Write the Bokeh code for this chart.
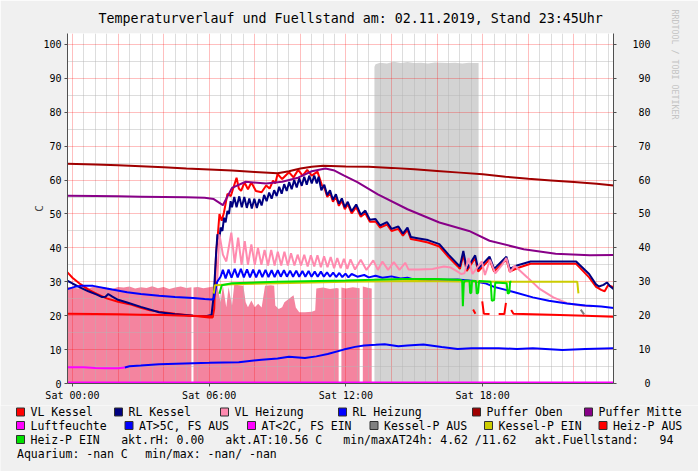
from bokeh.plotting import figure
from bokeh.models import Range1d, LinearAxis, FixedTicker, Title
from bokeh.embed import file_html
from bokeh.resources import INLINE
from bokeh.core.properties import value

# ---------------- texts / ticks ----------------
TITLE = "Temperaturverlauf und Fuellstand am: 02.11.2019, Stand 23:45Uhr"
WATERMARK = "RRDTOOL / TOBI OETIKER"
Y_LABEL = "C"
X_TICKS = [0, 6, 12, 18]
X_TICK_LABELS = ["Sat 00:00", "Sat 06:00", "Sat 12:00", "Sat 18:00"]
Y_TICKS = [0, 10, 20, 30, 40, 50, 60, 70, 80, 90, 100]

# ---------------- data (time in hours of Sat 02.11.2019) ----------------
FILL_T = [-0.25, 0.0, 0.25, 0.5, 0.75, 1.0, 1.25, 1.5, 1.75, 2.0, 2.25, 2.5, 2.75, 3.0, 3.25, 3.5, 3.75,
          4.0, 4.25, 4.5, 4.75, 5.0, 5.22, None, 5.31, 5.5, 5.75, 6.0, 6.2, 6.35, 6.5, 6.6, 6.75, 6.85,
          7.0, 7.1, 7.3, 7.5, 7.6, 7.7, 7.85, 8.0, 8.15, 8.3, 8.45, 8.7, 8.85, 8.9, 9.05, 9.2, 9.3, 9.5,
          9.7, 9.8, 9.95, 10.2, 10.5, 10.65, 10.7, 11.0, 11.3, 11.6, 11.68, None, 11.8, 12.0, 12.3,
          12.6, None, 12.74, 13.0, 13.13]
FILL_V = [28.5, 28.3, 28.0, 28.6, 28.2, 28.7, 28.1, 28.4, 27.9, 28.5, 28.3, 28.6, 28.0, 28.4, 28.2, 28.7, 28.1,
          28.5, 27.9, 28.3, 28.6, 28.2, 28.4, None, 28.3, 28.5, 28.1, 28.4, 28.6, 29.0, 24.0, 29.0, 22.5, 28.5,
          23.0, 29.2, 29.0, 28.8, 24.0, 22.5, 24.5, 22.5, 23.5, 22.4, 28.8, 29.0, 28.8, 23.0, 22.0, 22.5, 24.0, 25.0,
          26.0, 22.4, 21.0, 21.0, 21.2, 21.5, 28.0, 28.3, 27.9, 28.2, 28.0, None, 28.3, 28.0, 28.4,
          28.1, None, 28.6, 28.2, 28.0]

FS_T = [13.25, 13.3, 13.5, 13.8, 14.1, 14.4, 14.7, 15.0, 15.3, 15.6, 15.9, 16.2, 16.5, 16.8, 17.1, 17.4, 17.6, 17.82]
FS_V = [93.4, 94.2, 94.6, 94.4, 94.9, 94.5, 94.8, 94.5, 94.6, 94.4, 94.7, 94.6, 94.5, 94.6, 94.4, 94.6, 94.5, 94.5]

VLK_T = [-0.25, 0.0, 0.35, 0.7, 1.07, 1.5, 2.0, 2.5, 3.0, 3.4, 3.8, 4.5, 5.3, 6.0, 6.15, 6.22, 6.3, 6.38, 6.45,
         6.55, 6.65, 6.8, 6.95, 7.05, 7.2, 7.3, 7.4, 7.55, 7.7, 7.85, 8.05, 8.3, 8.5, 8.65, 8.8, 8.9, 9.0,
         9.2, 9.5, 9.7, 9.9, 10.1, 10.3, 10.5, 10.75, 10.95, 11.05, 11.18, 11.3, 11.43, 11.56, 11.69, 11.82,
         11.95, 12.08, 12.25, 12.45, 12.65, 12.85, 13.05, 13.3, 13.5, 13.8, 14.0, 14.3, 14.5, 14.7, 14.85,
         15.2, 15.6, 16.1, 16.5, 16.9, 17.0, 17.15, 17.3, 17.67, 17.8, 18.3, 18.5, 19.04, 19.19, 19.5, 20.1,
         22.1, 22.67, 22.96, 23.2, 23.35, 23.5, 23.75]
VLK_V = [33.0, 31.2, 29.3, 27.7, 26.4, 25.1, 24.1, 23.4, 22.3, 21.6, 21.2, 20.6, 20.0, 19.5, 19.5, 22.0, 38.0, 44.0, 50.0,
         48.0, 50.5, 55.9, 55.3, 57.5, 60.7, 57.5, 56.8, 59.3, 57.3, 59.3, 56.8, 56.4, 58.4, 57.5, 59.8, 59.0, 61.8,
         60.3, 62.3, 60.8, 63.0, 61.3, 63.0, 61.3, 62.5, 58.4, 57.8, 55.0, 56.3, 53.6, 55.1, 52.4, 53.9,
         51.4, 52.9, 50.2, 52.0, 49.2, 50.2, 47.7, 47.8, 46.0, 46.9, 45.0, 45.6, 43.6, 45.3, 42.6,
         42.2, 41.6, 40.4, 37.3, 34.6, 33.8, 38.0, 33.2, 37.0, 33.0, 36.6, 33.0, 36.6, 33.0, 34.0, 35.3,
         35.3, 31.3, 28.6, 27.6, 27.2, 29.0, 28.4]

RLK_T = [-0.25, 0.0, 0.35, 0.7, 1.07, 1.3, 1.45, 1.57, 1.75, 2.0, 2.4, 3.0, 3.8, 4.5, 5.3, 5.9, 6.1, 6.2, 6.3,
         6.36, 6.45, 6.5, 6.58, 6.65, 6.72, 6.8, 6.87, 6.94, 7.0, 7.1, 7.2, 7.32, 7.43, 7.54, 7.65, 7.76,
         7.87, 7.98, 8.09, 8.2, 8.3, 8.41, 8.52, 8.63, 8.74, 8.85, 8.96, 9.07, 9.18, 9.29, 9.4, 9.51, 9.62,
         9.73, 9.84, 9.95, 10.06, 10.17, 10.28, 10.39, 10.5, 10.61, 10.72, 10.8, 10.92, 11.05, 11.18, 11.3,
         11.43, 11.56, 11.69, 11.82, 11.95, 12.08, 12.25, 12.45, 12.65, 12.85, 13.05, 13.3, 13.5, 13.8, 14.0,
         14.3, 14.5, 14.7, 14.85, 15.2, 15.6, 16.1, 16.5, 16.9, 17.0, 17.15, 17.3, 17.67, 17.8, 18.3, 18.5,
         19.04, 19.19, 19.5, 20.1, 22.1, 22.67, 22.96, 23.1, 23.3, 23.45, 23.6, 23.75]
RLK_V = [30.4, 29.5, 28.3, 27.2, 26.2, 25.5, 25.6, 26.4, 25.6, 24.7, 23.9, 22.6, 21.0, 20.4, 20.0, 19.9, 20.2, 26.0, 38.0,
         44.0, 42.5, 46.0, 45.0, 48.9, 47.5, 50.9, 50.0, 53.8, 52.0, 55.0, 52.0, 55.2, 52.0, 55.0, 51.8, 54.6,
         51.6, 54.5, 51.8, 54.4, 52.5, 55.6, 53.8, 56.3, 54.5, 57.0, 55.3, 58.0, 56.0, 58.8, 56.8, 59.4, 57.3,
         60.0, 57.8, 60.5, 58.3, 61.0, 58.6, 61.3, 59.0, 61.3, 59.0, 61.0, 57.0, 58.6, 55.5, 57.0,
         54.2, 55.8, 53.0, 54.6, 52.0, 53.6, 50.8, 52.8, 49.8, 51.0, 48.3, 48.5, 46.6, 47.6, 45.6,
         46.3, 44.2, 46.0, 43.2, 42.8, 42.3, 41.1, 38.0, 35.2, 34.5, 39.1, 33.8, 37.8, 33.8, 37.4, 33.8,
         37.4, 33.8, 34.8, 36.0, 36.0, 32.3, 29.3, 28.6, 29.1, 29.8, 28.6, 27.8]

VLH_T = [6.35, 6.45, 6.6, 6.75, 6.97, 7.12, 7.27, 7.42, 7.56, 7.7, 7.85, 8.0, 8.14, 8.29, 8.43, 8.58, 8.72, 8.87,
         9.01, 9.16, 9.3, 9.45, 9.59, 9.74, 9.88, 10.03, 10.17, 10.32, 10.46, 10.61, 10.75, 10.9, 11.04, 11.19,
         11.33, 11.48, 11.62, 11.77, 11.91, 12.06, 12.2, 12.4, 12.65, 12.9, 13.2, 13.4, 13.6, 13.85, 14.1,
         14.35, 14.6, 14.75, 15.2, 15.8, 16.3, 16.6, 16.9, 17.05, 17.2, 17.38, 17.55, 17.96, 18.1, 18.32,
         18.55, 18.85, 19.04, 19.2, 19.4, 19.96, 20.5, 21.1, 21.7, 22.3, 22.8]
VLH_V = [30.0, 44.0, 38.0, 36.0, 44.5, 35.5, 43.0, 35.0, 42.0, 35.0, 41.0, 35.0, 40.0, 35.0, 39.4, 34.8, 39.4, 34.8,
         38.9, 34.8, 38.9, 34.8, 38.4, 34.8, 38.0, 34.8, 38.0, 34.5, 37.8, 34.5, 37.8, 34.3, 37.5, 34.3,
         37.3, 34.0, 37.0, 34.0, 36.8, 33.8, 36.6, 33.6, 36.5, 33.5, 36.3, 33.5, 36.0, 33.5, 35.8,
         33.5, 35.6, 33.6, 33.6, 33.8, 34.5, 34.2, 33.0, 32.3, 32.5, 37.0, 32.3, 36.0, 32.0, 36.5,
         32.5, 35.0, 37.0, 32.8, 34.7, 31.3, 27.9, 25.4, 23.7, 23.0, 22.8]

RLH_T = [-0.25, 0.1, 0.4, 0.9, 1.5, 2.4, 3.0, 3.8, 4.5, 5.3, 5.8, 6.1, 6.2, 6.35, 6.5, 6.6, 6.72, 6.85, 6.98,
         7.12, 7.25, 7.39, 7.52, 7.66, 7.79, 7.93, 8.06, 8.2, 8.33, 8.47, 8.6, 8.74, 8.87, 9.01, 9.14, 9.28,
         9.41, 9.55, 9.68, 9.82, 9.95, 10.09, 10.22, 10.36, 10.49, 10.63, 10.76, 10.9, 11.03, 11.17, 11.3,
         11.44, 11.57, 11.71, 11.84, 11.98, 12.11, 12.25, 12.5, 12.8, 13.0, 13.3, 13.6, 14.0, 14.4, 14.7,
         15.0, 15.3, 15.8, 16.5, 16.9, 17.5, 18.1, 18.5, 19.4, 20.2, 20.9, 21.7, 22.5, 23.2, 23.75]
RLH_V = [27.8, 28.5, 28.8, 28.8, 28.0, 26.9, 26.4, 25.9, 25.5, 25.2, 24.9, 24.8, 25.0, 30.0, 31.5, 33.5, 31.0, 33.6, 31.2,
         33.8, 31.3, 33.8, 31.3, 33.7, 31.3, 33.6, 31.3, 33.5, 31.4, 33.5, 31.4, 33.4, 31.4, 33.4, 31.5, 33.4,
         31.5, 33.3, 31.5, 33.3, 31.5, 33.2, 31.5, 33.2, 31.5, 33.0, 31.5, 33.0, 31.5, 32.8, 31.5,
         32.7, 31.4, 32.6, 31.4, 32.4, 31.3, 32.3, 31.5, 32.0, 31.3, 31.8, 31.2, 31.6, 31.0, 31.2,
         30.6, 30.2, 30.6, 30.6, 30.7, 30.3, 29.6, 28.5, 26.9, 25.4, 24.4, 23.6, 23.0, 22.7, 22.3]

PO_T = [-0.25, 1, 2, 3, 4, 5, 6, 7, 8, 9, 9.5, 10, 10.5, 11, 12, 13, 14, 15, 16, 17, 18, 19, 20, 21, 22, 23, 23.75]
PO_V = [64.8, 64.6, 64.4, 64.1, 63.8, 63.4, 63.1, 62.8, 62.4, 62.0, 62.6, 63.4, 63.9, 64.2, 64.0, 63.9, 63.6,
        63.2, 62.7, 62.2, 61.7, 61.0, 60.4, 59.9, 59.4, 58.9, 58.4]
PM_T = [-0.25, 1, 2, 3, 4, 5, 5.8, 6.2, 6.6, 7.0, 7.6, 8.5, 9.2, 9.9, 10.5, 11.1, 11.5, 11.9, 12.5, 13.4,
        14.7, 16.1, 17.4, 18.3, 19.8, 21.2, 22.7, 23.75]
PM_V = [55.4, 55.3, 55.2, 55.1, 55.0, 54.9, 54.8, 54.4, 52.6, 57.7, 59.5, 59.0, 59.5, 60.7, 62.6, 63.4, 62.8,
        61.4, 59.4, 55.8, 51.4, 47.5, 45.0, 42.1, 39.6, 38.3, 37.8, 37.9]

LF_T = [-0.25, 23.75]
LF_V = [0.0, 0.0]

ATL_T = [-0.25, 0.5, 1.0, 1.5, 2.0, 2.3]
ATL_V = [4.8, 4.8, 4.6, 4.5, 4.5, 4.7]
ATH_T = [2.3, 2.5, 3.0, 3.8, 5.3, 6.0, 7.3, 8.3, 9.0, 9.5, 10.2, 10.7, 11.2, 11.9, 12.4, 12.8, 13.3, 13.7,
         14.3, 14.7, 15.4, 16.2, 16.9, 17.5, 18.7, 19.5, 20.2, 21.5, 22.5, 23.75]
ATH_V = [4.7, 5.1, 5.3, 5.7, 6.0, 6.1, 6.3, 7.0, 7.4, 7.9, 7.5, 8.0, 8.7, 10.0, 10.8, 11.2, 11.4, 11.6,
         11.0, 11.2, 11.5, 10.8, 10.2, 10.4, 10.4, 10.2, 10.4, 9.9, 10.2, 10.4]

KPA_T = [22.3, 22.45]
KPA_V = [21.8, 20.4]
KPE_T = [6.2, 6.25, 7.0, 9.0, 12.0, 15.0, 17.0, 19.0, 21.0, 22.15, 22.2]
KPE_V = [26.5, 29.0, 29.3, 29.6, 30.0, 30.2, 30.1, 30.0, 30.0, 30.0, 26.6]

HPA_T = [-0.25, 1, 2, 3, 4, 5, 6.0, 6.2, None, 17.58, 17.68, None, 17.98, 18.05, 18.3, None,
         18.7, 18.95, 19.02, None, 19.25, 19.35, 21.0, 22.5, 23.75]
HPA_V = [20.6, 20.5, 20.4, 20.3, 20.2, 20.0, 19.8, 19.8, None, 21.8, 20.6, None, 24.2, 20.6, 20.5, None,
         20.5, 20.5, 23.8, None, 21.7, 20.6, 20.3, 20.0, 19.7]
HPE_T = [6.45, 6.55, 7.0, 9.0, 12.0, 14.5, 16.0, 16.9, 17.05, 17.1, 17.13, 17.17, 17.22, 17.42, 17.45, 17.5,
         17.53, 17.7, 17.74, 17.8, 17.84, 18.35, 18.4, 18.5, 18.55, 19.05, 19.1, 19.17, 19.2, 19.26]
HPE_V = [26.5, 29.0, 29.6, 30.0, 30.4, 30.8, 30.8, 30.6, 30.5, 30.3, 22.8, 29.5, 30.4, 30.3, 26.6, 26.8,
         30.3, 30.2, 26.5, 26.8, 30.2, 30.0, 24.4, 24.6, 29.8, 29.6, 26.5, 26.8, 30.0, 30.0]

# legend content
LEG_LABELS = ["VL Kessel", "RL Kessel", "VL Heizung", "RL Heizung", "Puffer Oben", "Puffer Mitte",
              "Luftfeuchte", "AT>5C, FS AUS", "AT<2C, FS EIN", "Kessel-P AUS", "Kessel-P EIN",
              "Heiz-P AUS", "Heiz-P EIN"]
LEG_COLORS = ["#FF0000", "#000080", "#FF8AAF", "#0000FF", "#A00000", "#880088",
              "#FF00FF", "#0000FF", "#FF00FF", "#808080", "#CCCC00", "#FF0000", "#00E000"]
AKT_RH = "0.00"
AKT_AT = "10.56"
MIN_AT = "4.62"
MAX_AT = "11.62"
FUELLSTAND = "94"
AQUA = "-nan"

# ---------------- styles / layout ----------------
C_VLK, C_RLK, C_VLH, C_RLH, C_PO, C_PM, C_LF, C_ATH, C_ATL, C_KPA, C_KPE, C_HPA, C_HPE = LEG_COLORS
C_FILL = "#F4849F"
C_FS = "#D3D3D3"
MONO = "DejaVu Sans Mono"
NB = "\u00a0"
BG = "#F0F0F0"

W = 698
H_MAIN, H_LEG = 405, 66               # main chart + legend strip = 471
FL, FT, FW, FH = 67, 32, 551, 351     # frame left/top/width/height in px
PXH, PXC = 23.0, 3.4                  # pixels per hour / per degree
X0 = (FL - 72) / PXH
X1 = X0 + FW / PXH
Y0 = 0.0
Y1 = FH / PXC

p = figure(width=W, height=H_MAIN, x_range=Range1d(X0, X1), y_range=Range1d(Y0, Y1),
           output_backend="svg", toolbar_location=None,
           min_border_left=FL, min_border_right=W - FL - FW, min_border_top=FT,
           min_border_bottom=H_MAIN - FT - FH,
           background_fill_color="#FFFFFF", border_fill_color=BG, outline_line_color=None)


def split(t, v):
    segs, ct, cv = [], [], []
    for a, b in zip(t, v):
        if b is None:
            if ct:
                segs.append((ct, cv))
            ct, cv = [], []
        else:
            ct.append(a)
            cv.append(b)
    if ct:
        segs.append((ct, cv))
    return segs


for st, sv in split(FILL_T, FILL_V):
    r = p.varea(x=st, y1=[0] * len(st), y2=sv, fill_color=C_FILL)
    r.level = "image"
r = p.varea(x=FS_T, y1=[0] * len(FS_T), y2=FS_V, fill_color=C_FS)
r.level = "image"

LW = 2
p.line(VLK_T, VLK_V, line_color=C_VLK, line_width=LW)
p.line(RLK_T, RLK_V, line_color=C_RLK, line_width=LW)
p.line(VLH_T, VLH_V, line_color=C_VLH, line_width=LW)
p.line(RLH_T, RLH_V, line_color=C_RLH, line_width=LW)
p.line(PO_T, PO_V, line_color=C_PO, line_width=LW)
p.line(PM_T, PM_V, line_color=C_PM, line_width=LW)
p.line(ATL_T, ATL_V, line_color=C_ATL, line_width=LW)
p.line(ATH_T, ATH_V, line_color=C_ATH, line_width=LW)
p.line(KPA_T, KPA_V, line_color=C_KPA, line_width=LW)
p.line(KPE_T, KPE_V, line_color=C_KPE, line_width=LW)
for st, sv in split(HPA_T, HPA_V):
    p.line(st, sv, line_color=C_HPA, line_width=LW)
p.line(HPE_T, HPE_V, line_color=C_HPE, line_width=LW)
p.line(LF_T, LF_V, line_color=C_LF, line_width=4)

# grids
major_x = list(range(0, 24, 2))
minor_x = [h / 2 for h in range(0, 48) if h % 4 != 0]
p.xgrid.ticker = FixedTicker(ticks=major_x, minor_ticks=minor_x)
p.ygrid.ticker = FixedTicker(ticks=Y_TICKS, minor_ticks=[t + 5 for t in Y_TICKS[:-1]])
for g in (p.xgrid, p.ygrid):
    g.grid_line_color = "#FF0000"
    g.grid_line_alpha = 0.25
    g.minor_grid_line_color = "#B4B4B4"
    g.minor_grid_line_alpha = 0.45

AX_COL = "#505050"
xa = p.xaxis[0]
xa.ticker = FixedTicker(ticks=X_TICKS)
xa.major_label_overrides = dict(zip(X_TICKS, X_TICK_LABELS))
ya = p.yaxis[0]
ya.ticker = FixedTicker(ticks=Y_TICKS)
ya.axis_label = Y_LABEL
ya.axis_label_text_font = MONO
ya.axis_label_text_font_size = "11px"
ya.axis_label_text_font_style = "normal"
ya.axis_label_standoff = -6
yr = LinearAxis(ticker=FixedTicker(ticks=Y_TICKS),
                major_label_overrides={t: str(t).rjust(3, NB) for t in Y_TICKS})
p.add_layout(yr, "right")
for ax in (xa, ya, yr):
    ax.major_label_text_font = MONO
    ax.major_label_text_font_size = "10px"
    ax.major_label_text_color = "#000000"
    ax.axis_line_color = AX_COL
    ax.major_tick_line_color = AX_COL
    ax.major_tick_out = 3
    ax.major_tick_in = 0
    ax.minor_tick_out = 0
    ax.minor_tick_in = 0
    ax.major_label_standoff = 3
yr.major_label_standoff = 16

# title and watermark
p.title.text = TITLE
p.title.text_font = MONO
p.title.text_font_size = "13.3px"
p.title.text_font_style = "normal"
p.title.text_color = "#000000"
p.title.align = "left"
p.title.offset = 98 - FL
p.title.standoff = 16
p.add_layout(Title(text=WATERMARK, text_font=MONO, text_font_size="8.3px", text_font_style="normal",
                   text_color="#C4C4C4", align="left", offset=-24, standoff=33), "right")

# ---------------- legend strip (separate figure, pixel coordinates) ----------------
leg = figure(width=W, height=H_LEG, x_range=Range1d(0, W), y_range=Range1d(H_LEG, 0),
             output_backend="svg", toolbar_location=None, min_border=0,
             x_axis_type=None, y_axis_type=None,
             background_fill_color=BG, border_fill_color=BG, outline_line_color=None)
leg.xgrid.visible = False
leg.ygrid.visible = False

ROWS = [6.5, 20, 34, 48]            # row centres inside the strip
SW_X = [16, 114, 220, 338, 472, 584, 16, 124.5, 247, 369.5, 484, 598.5, 16]
SW_R = [0, 0, 0, 0, 0, 0, 1, 1, 1, 1, 1, 1, 2]
leg.rect(x=[s + 4 for s in SW_X], y=[ROWS[r] for r in SW_R], width=8, height=8,
         fill_color=LEG_COLORS, line_color="#303030", line_width=1)

texts = list(LEG_LABELS) + [
    "akt.rH: " + AKT_RH,
    "akt.AT:" + AKT_AT + " C",
    "min/maxAT24h: " + MIN_AT + " /" + MAX_AT,
    "akt.Fuellstand:",
    FUELLSTAND,
    "Aquarium: " + AQUA + " C",
    "min/max: " + AQUA + "/ " + AQUA,
]
tx = [s + 14 for s in SW_X] + [120.7, 224.8, 342.8, 534.3, 659, 16.5, 144.7]
ty = [ROWS[r] for r in SW_R] + [ROWS[2]] * 5 + [ROWS[3]] * 2
leg.text(x=tx, y=ty, text=texts, text_font=value(MONO), text_font_size=value("11.5px"),
         text_align="left", text_baseline="middle", text_color="#000000")

open("out.html", "w").write(file_html([p, leg], INLINE))
